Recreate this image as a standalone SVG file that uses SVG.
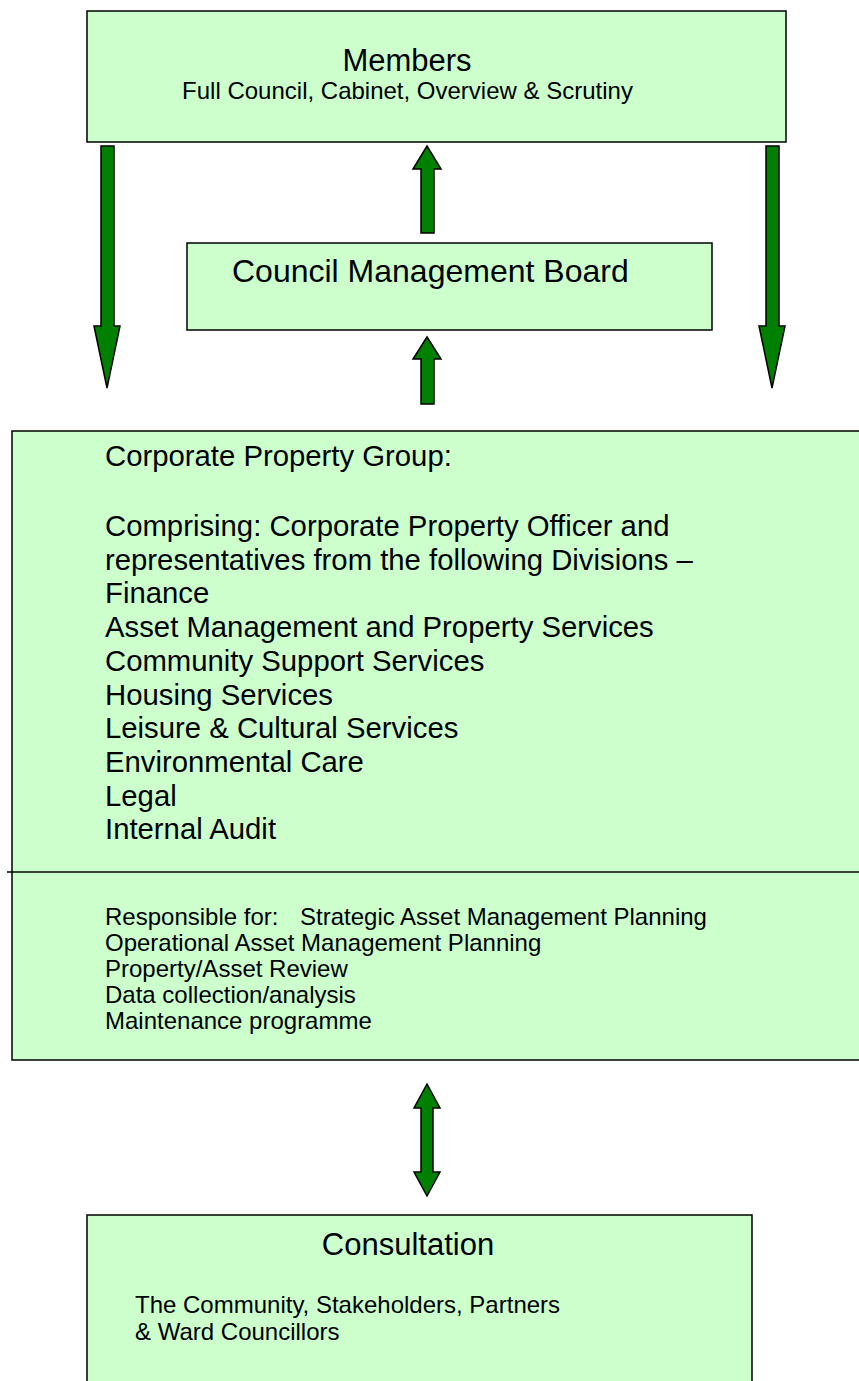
<svg xmlns="http://www.w3.org/2000/svg" width="859" height="1381" viewBox="0 0 859 1381">
<style>
.box{fill:#CCFFCC;stroke:#000;stroke-width:1.5}
.arr{fill:#008000;stroke:#000;stroke-width:1.5;stroke-linejoin:miter}
text{font-family:"Liberation Sans",Arial,sans-serif;fill:#000}
.t31{font-size:31px}
.t32{font-size:32px}
.t29{font-size:29.3px}
.t24{font-size:24px}
</style>
<rect width="859" height="1381" fill="#fff"/>
<g id="members">
<rect class="box" x="87" y="11" width="699" height="131"/>
<text class="t31" x="407" y="71" text-anchor="middle">Members</text>
<text class="t24" x="407.5" y="99" text-anchor="middle">Full Council, Cabinet, Overview &amp; Scrutiny</text>
</g>
<g id="cmb">
<rect class="box" x="187" y="243" width="525" height="87"/>
<text class="t32" x="232" y="282">Council Management Board</text>
</g>
<g id="cpg">
<rect class="box" x="12" y="431" width="860" height="629"/>
<line x1="7" y1="872" x2="859" y2="872" stroke="#000" stroke-width="1.5"/>
<text class="t29" x="105" y="466">Corporate Property Group:</text>
<text class="t29" x="105" y="536">Comprising: Corporate Property Officer and</text>
<text class="t29" x="105" y="569.7">representatives from the following Divisions –</text>
<text class="t29" x="105" y="603.4">Finance</text>
<text class="t29" x="105" y="637.1">Asset Management and Property Services</text>
<text class="t29" x="105" y="670.8">Community Support Services</text>
<text class="t29" x="105" y="704.5">Housing Services</text>
<text class="t29" x="105" y="738.2">Leisure &amp; Cultural Services</text>
<text class="t29" x="105" y="771.9">Environmental Care</text>
<text class="t29" x="105" y="805.6">Legal</text>
<text class="t29" x="105" y="839.3">Internal Audit</text>
<text class="t24" x="105" y="925">Responsible for:<tspan x="300">Strategic Asset Management Planning</tspan></text>
<text class="t24" x="105" y="951">Operational Asset Management Planning</text>
<text class="t24" x="105" y="977">Property/Asset Review</text>
<text class="t24" x="105" y="1003">Data collection/analysis</text>
<text class="t24" x="105" y="1029">Maintenance programme</text>
</g>
<g id="consultation">
<rect class="box" x="87" y="1215" width="665" height="180"/>
<text class="t31" x="408" y="1255" text-anchor="middle">Consultation</text>
<text class="t24" x="135" y="1313">The Community, Stakeholders, Partners</text>
<text class="t24" x="135" y="1339.5">&amp; Ward Councillors</text>
</g>
<g id="connectors">
<polygon class="arr" points="101,146 114,146 114,326 120,326 107,388 94,326 101,326"/>
<polygon class="arr" points="766,146 779,146 779,326 785,326 772,388 759,326 766,326"/>
<polygon class="arr" points="427,146 441,169 434,169 434,233 421,233 421,169 413,169"/>
<polygon class="arr" points="427,337 441,359 434,359 434,404 421,404 421,359 413,359"/>
<polygon class="arr" points="427,1084 440,1108 433,1108 433,1172 440,1172 427,1196 414,1172 421,1172 421,1108 414,1108"/>
</g>
</svg>
